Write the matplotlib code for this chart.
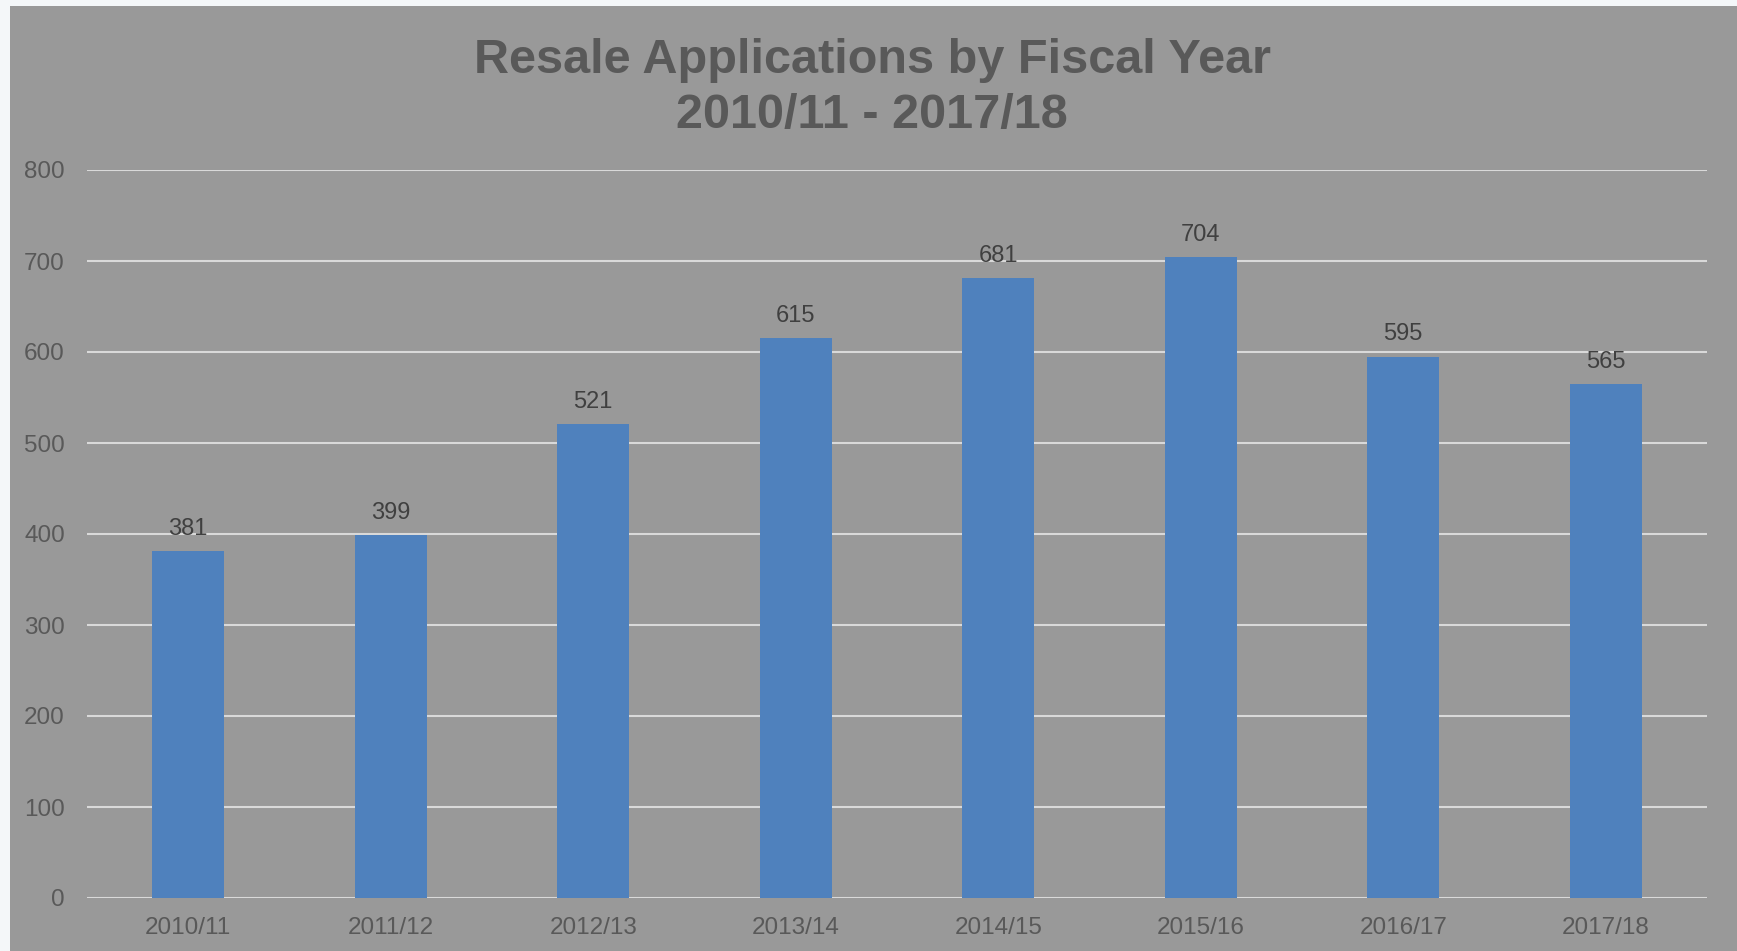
"""
Resale applications by fiscal year bar chart
"""
import matplotlib
matplotlib.use('Agg')
import matplotlib.pyplot as plt
from matplotlib.patches import Rectangle

years = ['2010/11', '2011/12', '2012/13', '2013/14',
         '2014/15', '2015/16', '2016/17', '2017/18']
applications = [381, 399, 521, 615, 681, 704, 595, 565]
y_ticks = [0, 100, 200, 300, 400, 500, 600, 700, 800]

BG = '#999999'
BAR = '#4f81bd'
GRID = '#d9d9d9'

plt.rcParams['font.family'] = ['Liberation Sans', 'DejaVu Sans']

W, H = 1737, 951
fig = plt.figure(figsize=(W / 100, H / 100), dpi=100, facecolor='#f4f7f9')
# gray chart area, leaving a thin light border on the left and top
fig.patches.append(Rectangle((10 / W, 0), 1 - 10 / W, 1 - 6 / H,
                             transform=fig.transFigure, facecolor=BG,
                             edgecolor='none', zorder=-10))

ax = fig.add_axes([87 / W, 1 - 898 / H, (1707 - 87) / W, (898 - 170) / H])
ax.set_facecolor(BG)

x = range(len(years))
bars = ax.bar(x, applications, width=0.356, color=BAR, zorder=3)
for b, v in zip(bars, applications):
    ax.annotate(str(v), (b.get_x() + b.get_width() / 2, v),
                xytext=(0, 8), textcoords='offset points',
                ha='center', va='bottom', fontsize=17, color='#404040')

ax.set_xlim(-0.5, len(years) - 0.5)
ax.set_ylim(0, 800)
ax.set_yticks(y_ticks)
ax.set_xticks(list(x))
ax.set_xticklabels(years)
ax.yaxis.grid(True, color=GRID, linewidth=1.5, zorder=0)
ax.set_axisbelow(True)
for s in ax.spines.values():
    s.set_visible(False)
ax.tick_params(axis='both', length=0, labelsize=17.5, colors='#595959')
ax.tick_params(axis='x', pad=14)
ax.tick_params(axis='y', pad=16)

fig.text(872 / W, 1 - 88 / H, 'Resale Applications by Fiscal Year\n2010/11 - 2017/18',
         ha='center', va='center', fontsize=35, fontweight='bold',
         color='#595959', linespacing=1.27)

fig.savefig('out.png', dpi=100, facecolor=fig.get_facecolor())
